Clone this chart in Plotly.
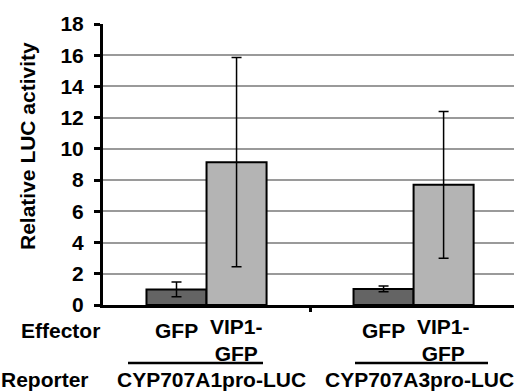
import plotly.graph_objects as go

reporters = ["CYP707A1pro-LUC", "CYP707A3pro-LUC"]
effectors = ["GFP", "VIP1-<br>GFP"]
gfp_vals = [1.0, 1.03]
gfp_err = [0.47, 0.18]
vip_vals = [9.15, 7.7]
vip_err = [6.7, 4.7]
y_ticks = [0, 2, 4, 6, 8, 10, 12, 14, 16, 18]

FONT = "Liberation Sans, Arial, sans-serif"
W, H = 514, 392
L, R, T, B = 103, 0, 24, 87
bargap = 0.42
xr = [-0.5, 1.485]

xpos = list(range(len(reporters)))

fig = go.Figure()
fig.add_trace(go.Bar(
    x=xpos, y=gfp_vals, name="GFP",
    marker=dict(color="#646464", line=dict(color="black", width=2)),
    error_y=dict(type="data", array=gfp_err, color="black", thickness=1.5, width=5),
))
fig.add_trace(go.Bar(
    x=xpos, y=vip_vals, name="VIP1-GFP",
    marker=dict(color="#b4b4b4", line=dict(color="black", width=2)),
    error_y=dict(type="data", array=vip_err, color="black", thickness=1.5, width=5),
))

ph = H - T - B
def py(pix):
    return (H - B - pix) / ph

bold = dict(family=FONT, size=21, color="black", weight="bold")
ann = []
off = (1 - bargap) / 4
for i in xpos:
    ann.append(dict(x=i - off, xref="x", y=py(330), yref="paper", text=effectors[0],
                    showarrow=False, font=bold, xanchor="center", yanchor="middle"))
    ann.append(dict(x=i + off, xref="x", y=py(340), yref="paper", text=effectors[1],
                    showarrow=False, font=bold, xanchor="center", yanchor="middle"))
ann.append(dict(x=0, xref="paper", xshift=-L + 19, y=py(330), yref="paper", text="Effector",
                showarrow=False, font=bold, xanchor="left", yanchor="middle"))
ann.append(dict(x=0, xref="paper", xshift=-L - 1, y=py(379), yref="paper", text="Reporter",
                showarrow=False, font=bold, xanchor="left", yanchor="middle"))
rep_centers = [211, 419]
for i, rname in enumerate(reporters):
    ann.append(dict(x=(rep_centers[i] - L) / (W - L - R), xref="paper", y=py(379), yref="paper",
                    text=rname, showarrow=False, font=bold,
                    xanchor="center", yanchor="middle"))
ann.append(dict(x=0, xref="paper", xshift=-L + 27, y=py(146), yref="paper",
                text="Relative LUC activity", textangle=-90, showarrow=False,
                font=bold, xanchor="center", yanchor="middle"))

shapes = []
for (x0, x1) in [(128, 263), (355, 488)]:
    shapes.append(dict(type="line", xref="paper", yref="paper",
                       x0=(x0 - L) / (W - L - R), x1=(x1 - L) / (W - L - R),
                       y0=py(363), y1=py(363), line=dict(color="black", width=2.5)))

fig.update_layout(
    width=W, height=H,
    margin=dict(l=L, r=R, t=T, b=B),
    paper_bgcolor="white", plot_bgcolor="white",
    barmode="group", bargap=bargap, bargroupgap=0,
    showlegend=False,
    annotations=ann, shapes=shapes,
    xaxis=dict(range=xr, tickvals=[0.5], ticktext=[""], ticks="outside", ticklen=4,
               tickwidth=3, tickcolor="black", showgrid=False, zeroline=False,
               showline=True, linecolor="black", linewidth=3),
    yaxis=dict(range=[0, 18], tickvals=y_ticks, ticks="outside", ticklen=6, tickwidth=3,
               tickcolor="black", showline=True, linecolor="black", linewidth=3,
               showgrid=True, gridcolor="#9a9a9a", gridwidth=2, zeroline=False,
               tickfont=dict(family=FONT, size=21, color="black", weight="bold"),
               ticklabelstandoff=6),
)

fig.write_html("out.html", config={"displayModeBar": False},
               post_script="document.body.style.margin='0';")
